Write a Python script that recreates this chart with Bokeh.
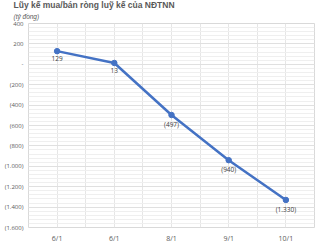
from bokeh.plotting import figure
from bokeh.models import FixedTicker, Title, ColumnDataSource, Range1d
from bokeh.embed import file_html
from bokeh.resources import INLINE

dates = ["6/1", "6/1", "8/1", "9/1", "10/1"]
values = [129, 13, -497, -940, -1330]
value_labels = ["129", "13", "(497)", "(940)", "(1.330)"]
y_ticks = [400, 200, 0, -200, -400, -600, -800, -1000, -1200, -1400, -1600]
y_tick_labels = ["400", "200", "-", "(200)", "(400)", "(600)", "(800)",
                 "(1.000)", "(1.200)", "(1.400)", "(1.600)"]
title_text = "Lũy kế mua/bán ròng luỹ kế của NĐTNN"
subtitle_text = "(tỷ đồng)"

FONT = "Open Sans"
TFONT = "Liberation Sans"
xs = list(range(len(dates)))
src = ColumnDataSource(dict(x=xs, y=values, lab=value_labels))

p = figure(width=326, height=245, output_backend="svg", toolbar_location=None,
           x_range=Range1d(-0.5, len(dates) - 0.5), y_range=Range1d(-1600, 400),
           min_border_left=28, min_border_right=12, min_border_top=0, min_border_bottom=0,
           outline_line_color="#d9d9d9", background_fill_color="white",
           border_fill_color="white")

p.title.text = title_text
p.title.align = "left"
p.title.offset = -15
p.title.text_font_size = "8.5px"
p.title.text_font_style = "bold"
p.title.text_color = "#595959"
p.title.text_font = TFONT
p.title.standoff = -2
p.title.vertical_align = "top"
p.title.background_fill_color = None

sub = Title(text=subtitle_text, align="left", offset=-15, text_font_size="6.5px",
            text_font_style="italic", text_color="#595959", text_font=TFONT, standoff=4,
            vertical_align="top", background_fill_color=None)
p.add_layout(sub, "above")

p.line("x", "y", source=src, line_color="#4472C4", line_width=2.5)
p.scatter("x", "y", source=src, size=5.5, fill_color="#4472C4", line_color="#4472C4")
p.text("x", "y", text="lab", source=src, text_align="center", text_baseline="top",
       y_offset=5, text_font_size="6.5px", text_color="#404040",
       text_font={"value": FONT})

# x axis
p.xaxis.ticker = FixedTicker(ticks=xs)
p.xaxis.major_label_overrides = {i: d for i, d in enumerate(dates)}
p.xaxis.axis_line_color = None
p.xaxis.major_tick_line_color = None
p.xaxis.minor_tick_line_color = None
p.xaxis.major_tick_out = 0
p.xaxis.major_tick_in = 0
p.xaxis.minor_tick_out = 0
p.xaxis.major_label_text_font_size = "7px"
p.xaxis.major_label_text_color = "#595959"
p.xaxis.major_label_text_font = FONT
p.xaxis.major_label_standoff = 6
p.xgrid.ticker = FixedTicker(ticks=[i * 0.5 - 0.5 for i in range(2 * len(dates) + 1)])
p.xgrid.grid_line_color = "#e6e6e6"

# y axis
p.yaxis.ticker = FixedTicker(ticks=y_ticks, minor_ticks=list(range(-1600, 401, 40)))
p.yaxis.major_label_overrides = dict(zip(y_ticks, y_tick_labels))
p.yaxis.axis_line_color = None
p.yaxis.major_tick_line_color = None
p.yaxis.minor_tick_line_color = None
p.yaxis.major_tick_out = 0
p.yaxis.major_tick_in = 0
p.yaxis.minor_tick_out = 0
p.yaxis.major_label_text_font_size = "6px"
p.yaxis.major_label_text_color = "#595959"
p.yaxis.major_label_text_font = FONT
p.yaxis.major_label_standoff = 5
p.yaxis.level = "overlay"
p.ygrid.grid_line_color = "#e0e0e0"
p.ygrid.minor_grid_line_color = "#efefef"

open("out.html", "w").write(file_html(p, INLINE))
